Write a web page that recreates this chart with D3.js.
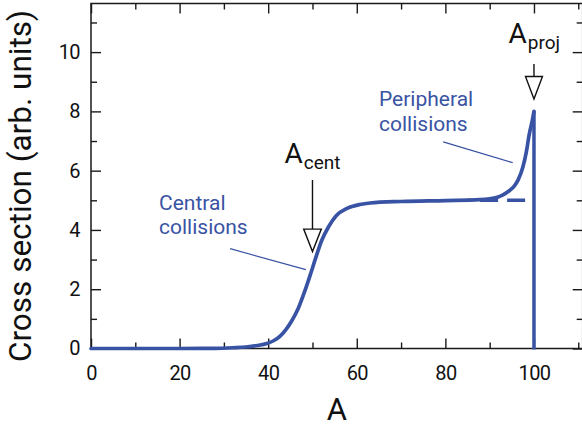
<!DOCTYPE html>
<html>
<head>
<meta charset="utf-8">
<script src="https://cdn.jsdelivr.net/npm/d3@7/dist/d3.min.js"></script>
<style>
  html, body { margin: 0; padding: 0; background: #fff; }
  svg { display: block; }
  text { font-family: Roboto, "Noto Sans", sans-serif; fill: #111; }
</style>
</head>
<body>
<svg id="chart" width="582" height="429"></svg>
<script>
// Mass number A and cross section
const massA = [0, 10, 20, 28, 32, 35, 37.5, 39.7, 41.3, 42.7, 44, 45.3, 46.8, 48.3, 49.6, 50.8, 52.1, 53.6, 55.4, 57.7, 60.7, 63, 70, 80, 87.8, 90, 91.5, 93, 94.5, 95.5, 96.4, 97.5, 98.3, 98.9, 99.6, 100];
const crossSection = [0, 0, 0, 0.005, 0.025, 0.05, 0.1, 0.17, 0.27, 0.42, 0.64, 0.93, 1.36, 1.95, 2.53, 3.09, 3.65, 4.10, 4.49, 4.72, 4.86, 4.91, 4.96, 4.99, 5.02, 5.05, 5.09, 5.18, 5.33, 5.47, 5.68, 6.12, 6.65, 7.2, 7.68, 8.0];

// Plateau continued (without peripheral enhancement) as a dashed line
const plateauA = [98, 85];
const plateauValue = 5.0;

// Projectile mass and the peak height at A_proj
const projA = 100;
const projPeak = 8.0;
const centA = 50;

// Axis ticks
const xMajorTicks = [0, 20, 40, 60, 80, 100];
const xMinorTicks = [10, 30, 50, 70, 90, 110];
const yMajorTicks = [0, 2, 4, 6, 8, 10];
const yMinorTicks = [1, 3, 5, 7, 9, 11];

const blue = "#3953a4";
const svg = d3.select("#chart");

const plotL = 91, plotR = 582.7, plotT = 3.5, plotB = 348.5;
const x = d3.scaleLinear().domain([0, 111]).range([plotL, plotR]);
const y = d3.scaleLinear().domain([0, 11.64]).range([plotB, plotT]);

// Frame
svg.append("rect")
  .attr("x", plotL).attr("y", plotT)
  .attr("width", plotR - plotL).attr("height", plotB - plotT)
  .attr("fill", "none").attr("stroke", "#1a1a1a").attr("stroke-width", 1.5);

function styleAxis(g) {
  g.select(".domain").remove();
  g.selectAll(".tick line").attr("stroke", "#1a1a1a").attr("stroke-width", 1.4);
  g.selectAll(".tick text").attr("font-size", 20).attr("fill", "#111")
    .attr("font-family", "Roboto, sans-serif").attr("letter-spacing", -0.6);
}

// Bottom axis (ticks point inward)
svg.append("g").attr("transform", `translate(0,${plotB})`)
  .call(d3.axisBottom(x).tickValues(xMajorTicks).tickSize(-10).tickPadding(17.5).tickFormat(d3.format("d")))
  .call(styleAxis);
svg.append("g").attr("transform", `translate(0,${plotB})`)
  .call(d3.axisBottom(x).tickValues(xMinorTicks).tickSize(-6).tickFormat(""))
  .call(styleAxis);
// Top axis mirror
svg.append("g").attr("transform", `translate(0,${plotT})`)
  .call(d3.axisTop(x).tickValues(xMajorTicks).tickSize(-10).tickFormat(""))
  .call(styleAxis);
svg.append("g").attr("transform", `translate(0,${plotT})`)
  .call(d3.axisTop(x).tickValues(xMinorTicks).tickSize(-6).tickFormat(""))
  .call(styleAxis);
// Left axis
svg.append("g").attr("transform", `translate(${plotL},0)`)
  .call(d3.axisLeft(y).tickValues(yMajorTicks).tickSize(-10).tickPadding(11).tickFormat(d3.format("d")))
  .call(styleAxis);
svg.append("g").attr("transform", `translate(${plotL},0)`)
  .call(d3.axisLeft(y).tickValues(yMinorTicks).tickSize(-6).tickFormat(""))
  .call(styleAxis);
// Right axis mirror
svg.append("g").attr("transform", `translate(${plotR},0)`)
  .call(d3.axisRight(y).tickValues(yMajorTicks).tickSize(-10).tickFormat(""))
  .call(styleAxis);
svg.append("g").attr("transform", `translate(${plotR},0)`)
  .call(d3.axisRight(y).tickValues(yMinorTicks).tickSize(-6).tickFormat(""))
  .call(styleAxis);

// Axis titles
svg.append("text")
  .attr("transform", `translate(31,186) rotate(-90)`)
  .attr("text-anchor", "middle")
  .attr("font-size", 32)
  .attr("textLength", 352).attr("lengthAdjust", "spacingAndGlyphs")
  .text("Cross section (arb. units)");
svg.append("text")
  .attr("x", x(55.5)).attr("y", 420)
  .attr("text-anchor", "middle").attr("font-size", 31)
  .text("A");

// Dashed plateau continuation
svg.append("path")
  .datum(plateauA)
  .attr("d", d3.line().x(d => x(d)).y(() => y(plateauValue)))
  .attr("fill", "none").attr("stroke", blue).attr("stroke-width", 3.5)
  .attr("stroke-dasharray", "18 9");

// Main curve
const pts = massA.map((a, i) => [a, crossSection[i]]);
svg.append("path")
  .datum(pts)
  .attr("d", d3.line().x(d => x(d[0])).y(d => y(d[1])).curve(d3.curveMonotoneX))
  .attr("fill", "none").attr("stroke", blue).attr("stroke-width", 3.7)
  .attr("stroke-linecap", "round").attr("stroke-linejoin", "round");

// Sharp drop at the projectile mass
svg.append("line")
  .attr("x1", x(projA)).attr("x2", x(projA))
  .attr("y1", y(projPeak)).attr("y2", y(0) + 1)
  .attr("stroke", blue).attr("stroke-width", 3.5);

// Arrows pointing at A_cent and A_proj
function arrow(cx, yTop, yTip, halfW, headH) {
  const g = svg.append("g");
  g.append("line").attr("x1", cx).attr("x2", cx).attr("y1", yTop).attr("y2", yTip - headH)
    .attr("stroke", "#111").attr("stroke-width", 1.4);
  g.append("path")
    .attr("d", `M${cx - halfW},${yTip - headH}L${cx + halfW},${yTip - headH}L${cx},${yTip}Z`)
    .attr("fill", "#fff").attr("stroke", "#111").attr("stroke-width", 1.4)
    .attr("stroke-linejoin", "miter");
}
arrow(x(centA), 180, y(3.27), 8.8, 22.5);
arrow(x(projA), 64, y(8.42), 8.5, 22.5);

// Subscripted labels
function subLabel(xPos, yBase, sub) {
  const t = svg.append("text").attr("x", xPos).attr("y", yBase).attr("font-size", 28);
  t.append("tspan").text("A");
  t.append("tspan").attr("font-size", 19).attr("dy", 6).attr("dx", 1).text(sub);
}
subLabel(284.5, 163.3, "cent");
subLabel(508.5, 42.7, "proj");

// Annotations
function note(xPos, yBase, lines) {
  lines.forEach((s, i) => {
    svg.append("text").attr("x", xPos).attr("y", yBase + i * 24.5)
      .attr("font-size", 21).style("fill", blue).text(s);
  });
}
note(159, 209.5, ["Central", "collisions"]);
note(379, 106, ["Peripheral", "collisions"]);

// Leader lines
svg.append("line")
  .attr("x1", x(31.4)).attr("y1", y(3.37)).attr("x2", x(48.5)).attr("y2", y(2.66))
  .attr("stroke", blue).attr("stroke-width", 1.2);
svg.append("line")
  .attr("x1", x(79.5)).attr("y1", y(6.97)).attr("x2", x(95.2)).attr("y2", y(6.27))
  .attr("stroke", blue).attr("stroke-width", 1.2);
</script>
</body>
</html>
